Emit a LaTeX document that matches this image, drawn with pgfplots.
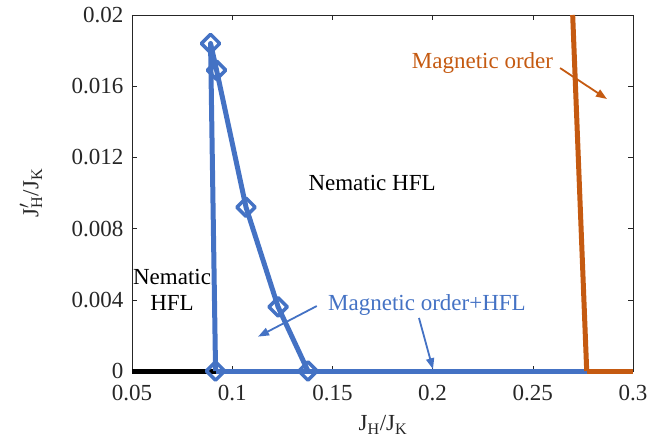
\documentclass[border=0pt]{standalone}
\usepackage{fontspec}
\setmainfont{Liberation Serif}
\usepackage{pgfplots}
\pgfplotsset{compat=1.18}
\usetikzlibrary{arrows.meta}
\definecolor{mblue}{RGB}{68,114,196}
\definecolor{morange}{RGB}{197,90,17}
\definecolor{axgray}{RGB}{38,38,38}
\newcommand{\bigf}{\fontsize{23}{26}\selectfont}

\begin{document}
\begin{tikzpicture}
\begin{axis}[
  scale only axis,
  width=501pt, height=356pt,
  xmin=0.05, xmax=0.3,
  ymin=0, ymax=0.02,
  xtick={0.05,0.1,0.15,0.2,0.25,0.3},
  xticklabels={0.05,0.1,0.15,0.2,0.25,0.3},
  ytick={0,0.004,0.008,0.012,0.016,0.02},
  yticklabels={0,0.004,0.008,0.012,0.016,0.02},
  scaled ticks=false,
  tick align=inside,
  major tick length=5pt,
  axis line style={axgray, line width=0.6pt},
  tick style={axgray, line width=0.6pt},
  ticklabel style={font=\bigf, text=axgray},
  xticklabel style={yshift=-11pt},
  yticklabel style={xshift=-5pt},
  xlabel={J\textsubscript{H}/J\textsubscript{K}},
  ylabel={J\rlap{$'$}\textsubscript{H}/J\textsubscript{K}},
  label style={font=\bigf, text=axgray},
  xlabel style={at={(axis description cs:0.501,-0.152)}, anchor=center},
  ylabel style={at={(axis description cs:-0.2016,0.5)}, anchor=center},
  clip=false,
]
% phase boundaries along J'_H = 0
\addplot[black, line width=5pt] coordinates {(0.05,0) (0.0917,0)};
\addplot[mblue, line width=5pt] coordinates {(0.0917,0) (0.2769,0)};
\addplot[morange, line width=5pt] coordinates {(0.2769,0) (0.3,0)};
\addplot[morange, line width=5pt] coordinates {(0.2769,0) (0.2699,0.02)};
% nematic boundary with markers
\addplot[mblue, line width=5pt, line join=round,
  mark=square, mark size=6.5pt,
  mark options={rotate=45, line width=3.5pt, solid}]
  coordinates {
    (0.0917,0)
    (0.0892,0.0184)
    (0.0922,0.0169)
    (0.1069,0.0092)
    (0.1229,0.0036)
    (0.1378,0)
  };

\coordinate (sw) at (rel axis cs:0,0);
\coordinate (ne) at (rel axis cs:1,1);

% annotations
\draw[mblue, line width=1.8pt, -{Triangle[length=11pt,width=8pt]}]
  (axis cs:0.1422,0.00365) -- (axis cs:0.1129,0.00193);
\draw[mblue, line width=1.8pt, -{Triangle[length=11pt,width=8pt]}]
  (axis cs:0.1932,0.00298) -- (axis cs:0.2002,0.0001);
\draw[morange, line width=1.8pt, -{Triangle[length=11pt,width=8pt]}]
  (axis cs:0.2636,0.01702) -- (axis cs:0.2870,0.01528);
\node[morange, font=\bigf] at (axis cs:0.2249,0.0173) {Magnetic order};
\node[mblue, font=\bigf] at (axis cs:0.1972,0.00371) {Magnetic order+HFL};
\node[font=\bigf] at (axis cs:0.1698,0.01056) {Nematic HFL};
\node[font=\bigf, align=center] at (axis cs:0.0700,0.00455) {Nematic\\HFL};
\end{axis}
\pgfresetboundingbox
\path ([shift={(-132pt,-74pt)}]sw) rectangle ([shift={(17pt,15pt)}]ne);
\end{tikzpicture}
\end{document}
